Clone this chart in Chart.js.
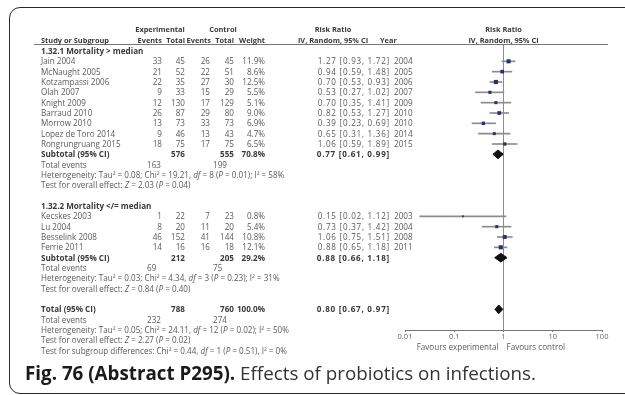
<!DOCTYPE html>
<html>
<head>
<meta charset="utf-8">
<script src="https://cdn.jsdelivr.net/npm/chart.js@4.4.1/dist/chart.umd.min.js"></script>
<style>
  html, body { margin: 0; padding: 0; background: #fff; }
  #wrap { position: relative; width: 625px; height: 395px; overflow: hidden; font-family: "Open Sans", sans-serif; }
  #frame { position: absolute; left: 9px; top: 7px; width: 700px; height: 385px; border: 1.5px solid #2a2a2a; border-radius: 11px; }
  canvas { position: absolute; left: 0; top: 0; }
  .t { position: absolute; font-size: 8.1px; line-height: 10px; color: #5a5a5a; white-space: nowrap; }
  .b { font-weight: bold; color: #3a3a3a; }
  .h { font-size: 7.4px; }
  .r { transform: translateX(-100%); }
  .c { transform: translateX(-50%); }
  .n { letter-spacing: 0.75px; }
  #rule { position: absolute; left: 34px; width: 574px; height: 1px; background: #777; }
  #caption { position: absolute; left: 25px; top: 361px; font-size: 18.8px; line-height: 24px; color: #333; white-space: nowrap; }
  #caption b { color: #1a1a1a; }
</style>
</head>
<body>
<div id="wrap">
  <div id="frame"></div>
  <canvas id="forest" width="625" height="395"></canvas>
  <div id="rule"></div>
  <div id="caption"><b>Fig. 76 (Abstract P295).</b> Effects of probiotics on infections.</div>
</div>
<script>
// studies (rows are table lines, 0 = first subgroup heading)
var studyNames = ["Jain 2004", "McNaught 2005", "Kotzampassi 2006", "Olah 2007", "Knight 2009",
  "Barraud 2010", "Morrow 2010", "Lopez de Toro 2014", "Rongrungruang 2015",
  "Kecskes 2003", "Lu 2004", "Besselink 2008", "Ferrie 2011"];
var studyRows = [1, 2, 3, 4, 5, 6, 7, 8, 9, 16, 17, 18, 19];
var expEvents = [33, 21, 22, 9, 12, 26, 13, 9, 18, 1, 8, 46, 14];
var expTotal = [45, 52, 35, 33, 130, 87, 73, 46, 75, 22, 20, 152, 16];
var ctrlEvents = [26, 22, 27, 15, 17, 29, 33, 13, 17, 7, 11, 41, 16];
var ctrlTotal = [45, 51, 30, 29, 129, 80, 73, 43, 75, 23, 20, 144, 18];
var weights = [11.9, 8.6, 12.5, 5.5, 5.1, 9.0, 6.9, 4.7, 6.5, 0.8, 5.4, 10.8, 12.1];
var rrEst = [1.27, 0.94, 0.70, 0.53, 0.70, 0.82, 0.39, 0.65, 1.06, 0.15, 0.73, 1.06, 0.88];
var rrLow = [0.93, 0.59, 0.53, 0.27, 0.35, 0.53, 0.23, 0.31, 0.59, 0.02, 0.37, 0.75, 0.65];
var rrHigh = [1.72, 1.48, 0.93, 1.02, 1.41, 1.27, 0.69, 1.36, 1.89, 1.12, 1.42, 1.51, 1.18];
var years = [2004, 2005, 2006, 2007, 2009, 2010, 2010, 2014, 2015, 2003, 2004, 2008, 2011];

// pooled results: two subtotals and the overall total
var pooledLabels = ["Subtotal (95% CI)", "Subtotal (95% CI)", "Total (95% CI)"];
var pooledRows = [10, 20, 25];
var pooledExpTotal = [576, 212, 788];
var pooledCtrlTotal = [555, 205, 760];
var pooledWeight = ["70.8%", "29.2%", "100.0%"];
var pooledEst = [0.77, 0.88, 0.80];
var pooledLow = [0.61, 0.66, 0.67];
var pooledHigh = [0.99, 1.18, 0.97];

var eventRows = [11, 21, 26];
var eventsExp = [163, 69, 232];
var eventsCtrl = [199, 75, 274];

var groupLabels = ["1.32.1 Mortality &gt; median", "1.32.2 Mortality &lt;/= median"];
var groupRows = [0, 15];

var noteRows = [12, 13, 22, 23, 27, 28, 29];
var notes = [
  "Heterogeneity: Tau² = 0.08; Chi² = 19.21, <i>df</i> = 8 (<i>P</i> = 0.01); I² = 58%",
  "Test for overall effect: <i>Z</i> = 2.03 (<i>P</i> = 0.04)",
  "Heterogeneity: Tau² = 0.03; Chi² = 4.34, <i>df</i> = 3 (<i>P</i> = 0.23); I² = 31%",
  "Test for overall effect: <i>Z</i> = 0.84 (<i>P</i> = 0.40)",
  "Heterogeneity: Tau² = 0.05; Chi² = 24.11, <i>df</i> = 12 (<i>P</i> = 0.02); I² = 50%",
  "Test for overall effect: <i>Z</i> = 2.27 (<i>P</i> = 0.02)",
  "Test for subgroup differences: Chi² = 0.44, <i>df</i> = 1 (<i>P</i> = 0.51), I² = 0%"
];

var tickValues = [0.01, 0.1, 1, 10, 100];
var tickLabels = ["0.01", "0.1", "1", "10", "100"];

function fmt2(v) { return v.toFixed(2); }
function ciText(est, lo, hi) { return fmt2(est) + " [" + fmt2(lo) + ", " + fmt2(hi) + "]"; }

// build datasets
var ciData = [];
var pointData = [];
var pointSizes = [];
studyRows.forEach(function(row, i) {
  ciData.push({ x: [rrLow[i], rrHigh[i]], y: row });
  pointData.push({ x: rrEst[i], y: row });
  pointSizes.push(0.8 + Math.sqrt(weights[i]) * 0.6);
});

var datasets = [
  {
    type: 'scatter', data: pointData, pointStyle: 'rect', pointRadius: pointSizes,
    backgroundColor: '#26306e', borderWidth: 0, order: 0
  },
  {
    type: 'bar', indexAxis: 'y', data: ciData, backgroundColor: '#8c8c8c',
    barThickness: 1, borderWidth: 0, grouped: false, order: 2
  }
];
pooledRows.forEach(function(row, i) {
  datasets.push({
    type: 'line',
    data: [
      { x: pooledLow[i], y: row },
      { x: pooledEst[i], y: row - 0.42 },
      { x: pooledHigh[i], y: row },
      { x: pooledEst[i], y: row + 0.42 },
      { x: pooledLow[i], y: row }
    ],
    borderColor: '#111', backgroundColor: '#111', borderWidth: 1,
    pointRadius: 0, tension: 0, fill: 'shape', order: 0
  });
});

var chart = new Chart(document.getElementById('forest'), {
  type: 'scatter',
  data: { datasets: datasets },
  options: {
    responsive: false,
    animation: false,
    devicePixelRatio: 1,
    layout: { padding: { left: 405, right: 23, top: 45, bottom: 45 } },
    plugins: { legend: { display: false }, tooltip: { enabled: false } },
    scales: {
      x: {
        type: 'logarithmic', min: 0.01, max: 100, position: 'bottom', offset: false,
        afterBuildTicks: function(scale) {
          scale.ticks = tickValues.map(function(v) { return { value: v }; });
        },
        afterFit: function(scale) { scale.height = 20; },
        ticks: {
          autoSkip: false, maxRotation: 0, padding: 0, color: '#666',
          font: { family: 'Open Sans', size: 7.5 },
          callback: function(v) {
            var i = tickValues.indexOf(v);
            return i < 0 ? '' : tickLabels[i];
          }
        },
        grid: {
          offset: false,
          color: function(c) { return c.tick && c.tick.value === 1 ? '#8c8c8c' : 'rgba(0,0,0,0)'; },
          tickColor: '#777', tickLength: 2, lineWidth: 1
        },
        border: { color: '#777', width: 1 }
      },
      y: {
        type: 'linear', reverse: true, min: -0.58, max: 27, display: false,
        offset: false, grid: { offset: false }
      }
    }
  }
});

// table text, placed on the chart's own row scale
var wrap = document.getElementById('wrap');
function rowY(r) { return chart.scales.y.getPixelForValue(r); }
function addText(html, x, row, align, bold, extra) {
  var d = document.createElement('div');
  d.className = 't' + (bold ? ' b' : '') + (align === 'r' ? ' r' : align === 'c' ? ' c' : '') + (extra ? ' ' + extra : '');
  d.innerHTML = html;
  d.style.left = x + 'px';
  d.style.top = (rowY(row) - 5) + 'px';
  wrap.appendChild(d);
}

var colName = 41, colExpEv = 162, colExpTot = 185, colCtrlEv = 210, colCtrlTot = 234;
var colWeight = 265, colRR = 390, colYear = 394;
var xOne = chart.scales.x.getPixelForValue(1);

// headers
addText("Experimental", 160, -2.13, 'c', true, 'h');
addText("Control", 223, -2.13, 'c', true, 'h');
addText("Risk Ratio", 333, -2.13, 'c', true, 'h');
addText("Risk Ratio", xOne, -2.13, 'c', true, 'h');
addText("Study or Subgroup", colName, -1.06, 'l', true, 'h');
addText("Events", colExpEv, -1.06, 'r', true, 'h');
addText("Total", colExpTot, -1.06, 'r', true, 'h');
addText("Events", colCtrlEv + 1, -1.06, 'r', true, 'h');
addText("Total", colCtrlTot, -1.06, 'r', true, 'h');
addText("Weight", colWeight, -1.06, 'r', true, 'h');
addText("IV, Random, 95% CI", 333, -1.06, 'c', true, 'h');
addText("Year", 380, -1.06, 'l', true, 'h');
addText("IV, Random, 95% CI", xOne, -1.06, 'c', true, 'h');
document.getElementById('rule').style.top = Math.round(rowY(-0.72)) + 'px';

groupRows.forEach(function(row, i) { addText(groupLabels[i], colName, row, 'l', true); });

studyRows.forEach(function(row, i) {
  addText(studyNames[i], colName, row, 'l');
  addText(expEvents[i], colExpEv, row, 'r');
  addText(expTotal[i], colExpTot, row, 'r');
  addText(ctrlEvents[i], colCtrlEv, row, 'r');
  addText(ctrlTotal[i], colCtrlTot, row, 'r');
  addText(weights[i].toFixed(1) + "%", colWeight, row, 'r');
  addText(ciText(rrEst[i], rrLow[i], rrHigh[i]), colRR, row, 'r', false, 'n');
  addText(years[i], colYear, row, 'l');
});

pooledRows.forEach(function(row, i) {
  addText(pooledLabels[i], colName, row, 'l', true);
  addText(pooledExpTotal[i], colExpTot, row, 'r', true);
  addText(pooledCtrlTotal[i], colCtrlTot, row, 'r', true);
  addText(pooledWeight[i], colWeight, row, 'r', true);
  addText(ciText(pooledEst[i], pooledLow[i], pooledHigh[i]), colRR, row, 'r', true, 'n');
});

eventRows.forEach(function(row, i) {
  addText("Total events", colName, row, 'l');
  addText(eventsExp[i], 147, row, 'l');
  addText(eventsCtrl[i], 213, row, 'l');
});

noteRows.forEach(function(row, i) { addText(notes[i], colName, row, 'l'); });

// axis captions under the forest plot
addText("Favours experimental", xOne - 5, 28.6, 'r');
addText("Favours control", xOne + 3, 28.6, 'l');
</script>
</body>
</html>
